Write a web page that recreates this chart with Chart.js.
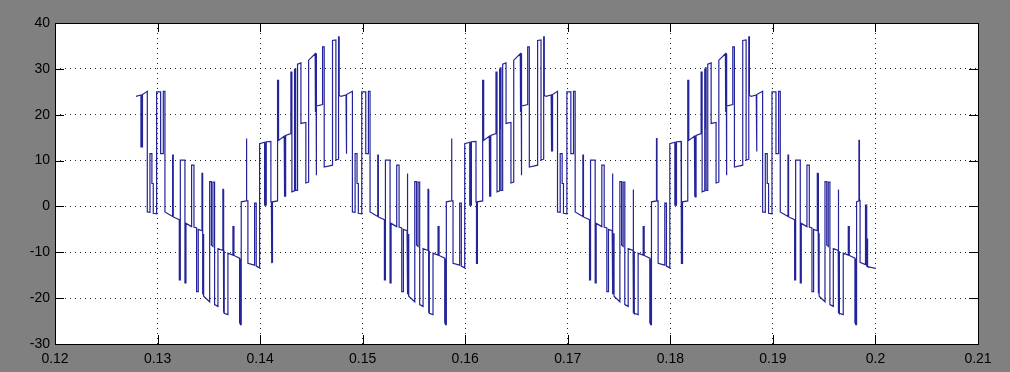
<!DOCTYPE html>
<html>
<head>
<meta charset="utf-8">
<script src="https://cdn.jsdelivr.net/npm/chart.js@4.4.1/dist/chart.umd.min.js"></script>
<style>
  html, body { margin: 0; padding: 0; background: #808080; }
</style>
</head>
<body>
<canvas id="scope" width="1010" height="372"></canvas>
<script>
// tick values and labels (MATLAB style axis)
const xTicks = [0.12, 0.13, 0.14, 0.15, 0.16, 0.17, 0.18, 0.19, 0.2, 0.21];
const xTickLabels = ['0.12', '0.13', '0.14', '0.15', '0.16', '0.17', '0.18', '0.19', '0.2', '0.21'];
const yTicks = [-30, -20, -10, 0, 10, 20, 30, 40];
const yTickLabels = ['-30', '-20', '-10', '0', '10', '20', '30', '40'];

// waveform, [time s, value]
const descend1 = [
  [0.12789, 24.0],
  [0.12838, 24.3], [0.12838, 13.0], [0.12843, 13.0], [0.12843, 24.3], [0.12848, 24.35], [0.12848, 13.0], [0.12853, 13.0], [0.12853, 24.4],
  [0.12900, 25.1], [0.12900, -1.2],
  [0.12926, -1.3], [0.12926, 11.5], [0.12945, 11.5], [0.12945, 5.0], [0.12958, 5.0], [0.12958, -1.5],
  [0.12991, -1.6], [0.12991, 25.0], [0.13030, 25.0], [0.13030, 11.5], [0.13056, 11.5], [0.13056, 25.1], [0.13072, 25.1], [0.13072, -1.2],
  [0.13147, -2.2], [0.13147, 11.2], [0.13153, 11.2], [0.13153, -2.3],
  [0.13212, -2.9], [0.13212, -16.0], [0.13222, -16.0], [0.13222, 10.1], [0.13267, 10.1], [0.13267, -16.7], [0.13277, -16.7], [0.13277, -3.7],
  [0.13332, -4.4], [0.13332, 9.0], [0.13355, 9.0], [0.13355, -4.5], [0.13381, -4.7], [0.13381, -18.6], [0.13397, -18.6], [0.13397, -5.0],
  [0.13433, -5.3], [0.13433, 7.2], [0.13440, 7.2], [0.13440, -19.0], [0.13446, -19.0], [0.13446, -6.0], [0.13451, -6.0], [0.13451, -19.6],
  [0.13508, -20.8], [0.13508, 5.4], [0.13525, 5.4], [0.13525, -8.4], [0.13540, -8.7], [0.13540, 5.3], [0.13556, 5.3], [0.13556, -21.4],
  [0.13589, -21.8], [0.13589, -9.2],
  [0.13637, -9.6], [0.13637, 3.7], [0.13641, 3.7], [0.13641, -23.2], [0.13646, -23.2], [0.13646, -9.8], [0.13650, -9.8], [0.13650, -23.3],
  [0.13686, -23.6], [0.13686, -10.2],
  [0.13735, -10.6], [0.13735, -4.4], [0.13745, -4.4], [0.13745, -10.7],
  [0.13800, -11.3], [0.13800, -25.4], [0.13805, -25.4], [0.13805, -11.4], [0.13810, -11.4], [0.13810, -25.8], [0.13816, -25.8], [0.13816, 1.0],
  [0.13865, 1.2], [0.13865, 14.8], [0.13870, 14.8], [0.13870, 1.2], [0.13881, 1.2], [0.13881, -12.4],
  [0.13946, -12.8], [0.13946, 0.7], [0.13962, 0.7], [0.13962, -13.0],
  [0.13995, -13.4]
];
const rise1 = [
  [0.13995, 13.7],
  [0.14044, 14.0], [0.14044, 0.3], [0.14049, 0.3], [0.14049, 14.0], [0.14054, 14.0], [0.14054, 0.3], [0.14060, 0.3], [0.14060, 14.1],
  [0.14105, 14.2], [0.14105, 1.0], [0.14110, 1.0], [0.14110, -12.4], [0.14115, -12.4], [0.14115, 1.0], [0.14118, 1.0], [0.14118, -12.3], [0.14122, -12.3], [0.14122, 1.0],
  [0.14170, 1.2], [0.14170, 27.5], [0.14180, 27.5], [0.14180, 14.4],
  [0.14235, 15.3], [0.14235, 2.1], [0.14240, 2.1], [0.14240, 15.3], [0.14245, 15.3], [0.14245, 2.1], [0.14251, 2.1], [0.14251, 15.5],
  [0.14300, 15.9], [0.14300, 29.3], [0.14310, 29.3], [0.14310, 3.2],
  [0.14333, 3.4], [0.14333, 30.0], [0.14337, 30.0], [0.14337, 17.0], [0.14342, 17.0], [0.14342, 30.2], [0.14349, 30.2], [0.14349, 3.5],
  [0.14365, 3.5], [0.14365, 31.0], [0.14398, 31.3], [0.14398, 18.1],
  [0.14446, 18.3], [0.14446, 5.1], [0.14473, 5.3], [0.14473, 31.9],
  [0.14537, 33.3], [0.14537, 20.6], [0.14541, 20.6], [0.14541, 33.3], [0.14545, 33.3], [0.14545, 6.8], [0.14551, 6.8], [0.14551, 21.9],
  [0.14609, 22.2], [0.14609, 34.8], [0.14625, 34.8], [0.14625, 8.6],
  [0.14706, 9.0], [0.14706, 36.2], [0.14739, 36.3], [0.14739, 10.1],
  [0.14765, 10.3], [0.14765, 37.0], [0.14771, 37.0], [0.14771, 24.2]
];
const descend2 = [
  [0.14789, 24.0],
  [0.14838, 24.3], [0.14838, 11.5], [0.14845, 11.5], [0.14845, 24.4],
  [0.14900, 25.1], [0.14900, -1.2],
  [0.14926, -1.3], [0.14926, 11.5], [0.14945, 11.5], [0.14945, 5.0], [0.14958, 5.0], [0.14958, -1.5],
  [0.14991, -1.6], [0.14991, 25.0], [0.15030, 25.0], [0.15030, 11.5], [0.15056, 11.5], [0.15056, 25.1], [0.15072, 25.1], [0.15072, -1.2],
  [0.15147, -2.2], [0.15147, 11.2], [0.15153, 11.2], [0.15153, -2.3],
  [0.15212, -2.9], [0.15212, -16.0], [0.15222, -16.0], [0.15222, 10.1], [0.15267, 10.1], [0.15267, -16.7], [0.15277, -16.7], [0.15277, -3.7],
  [0.15332, -4.4], [0.15332, 9.0], [0.15355, 9.0], [0.15355, -4.5], [0.15381, -4.7], [0.15381, -18.6], [0.15397, -18.6], [0.15397, -5.0],
  [0.15433, -5.3], [0.15433, 7.2], [0.15440, 7.2], [0.15440, -19.0], [0.15446, -19.0], [0.15446, -6.0], [0.15451, -6.0], [0.15451, -19.6],
  [0.15508, -20.8], [0.15508, 5.4], [0.15525, 5.4], [0.15525, -8.4], [0.15540, -8.7], [0.15540, 5.3], [0.15556, 5.3], [0.15556, -21.4],
  [0.15589, -21.8], [0.15589, -9.2],
  [0.15637, -9.6], [0.15637, 3.7], [0.15641, 3.7], [0.15641, -23.2], [0.15646, -23.2], [0.15646, -9.8], [0.15650, -9.8], [0.15650, -23.3],
  [0.15686, -23.6], [0.15686, -10.2],
  [0.15735, -10.6], [0.15735, -4.4], [0.15745, -4.4], [0.15745, -10.7],
  [0.15800, -11.3], [0.15800, -25.4], [0.15805, -25.4], [0.15805, -11.4], [0.15810, -11.4], [0.15810, -25.8], [0.15816, -25.8], [0.15816, 1.0],
  [0.15865, 1.2], [0.15865, 14.8], [0.15870, 14.8], [0.15870, 1.2], [0.15881, 1.2], [0.15881, -12.4],
  [0.15946, -12.8], [0.15946, 0.7], [0.15962, 0.7], [0.15962, -13.0],
  [0.15995, -13.4]
];
const rise2 = [
  [0.15995, 13.7],
  [0.16044, 14.0], [0.16044, 0.3], [0.16049, 0.3], [0.16049, 14.0], [0.16054, 14.0], [0.16054, 0.3], [0.16060, 0.3], [0.16060, 14.1],
  [0.16105, 14.2], [0.16105, 1.0], [0.16110, 1.0], [0.16110, -12.4], [0.16115, -12.4], [0.16115, 1.0], [0.16118, 1.0], [0.16118, -12.3], [0.16122, -12.3], [0.16122, 1.0],
  [0.16170, 1.2], [0.16170, 27.5], [0.16180, 27.5], [0.16180, 14.4],
  [0.16235, 15.3], [0.16235, 2.1], [0.16240, 2.1], [0.16240, 15.3], [0.16245, 15.3], [0.16245, 2.1], [0.16251, 2.1], [0.16251, 15.5],
  [0.16300, 15.9], [0.16300, 29.3], [0.16310, 29.3], [0.16310, 3.2],
  [0.16333, 3.4], [0.16333, 30.0], [0.16337, 30.0], [0.16337, 17.0], [0.16342, 17.0], [0.16342, 30.2], [0.16349, 30.2], [0.16349, 3.5],
  [0.16365, 3.5], [0.16365, 31.0], [0.16398, 31.3], [0.16398, 18.1],
  [0.16446, 18.3], [0.16446, 5.1], [0.16473, 5.3], [0.16473, 31.9],
  [0.16537, 33.3], [0.16537, 20.6], [0.16541, 20.6], [0.16541, 33.3], [0.16545, 33.3], [0.16545, 6.8], [0.16551, 6.8], [0.16551, 21.9],
  [0.16609, 22.2], [0.16609, 34.8], [0.16625, 34.8], [0.16625, 8.6],
  [0.16706, 9.0], [0.16706, 36.2], [0.16739, 36.3], [0.16739, 10.1],
  [0.16765, 10.3], [0.16765, 37.0], [0.16771, 37.0], [0.16771, 24.2]
];
const descend3 = [
  [0.16789, 24.0],
  [0.16838, 24.3], [0.16838, 12.0], [0.16844, 12.0], [0.16844, 24.3], [0.16849, 24.35], [0.16849, 12.0], [0.16853, 12.0], [0.16853, 24.4],
  [0.16900, 25.1], [0.16900, -1.2],
  [0.16926, -1.3], [0.16926, 11.5], [0.16945, 11.5], [0.16945, 5.0], [0.16958, 5.0], [0.16958, -1.5],
  [0.16991, -1.6], [0.16991, 25.0], [0.17030, 25.0], [0.17030, 11.5], [0.17056, 11.5], [0.17056, 25.1], [0.17072, 25.1], [0.17072, -1.2],
  [0.17147, -2.2], [0.17147, 11.2], [0.17153, 11.2], [0.17153, -2.3],
  [0.17212, -2.9], [0.17212, -16.0], [0.17222, -16.0], [0.17222, 10.1], [0.17267, 10.1], [0.17267, -16.7], [0.17277, -16.7], [0.17277, -3.7],
  [0.17332, -4.4], [0.17332, 9.0], [0.17355, 9.0], [0.17355, -4.5], [0.17381, -4.7], [0.17381, -18.6], [0.17397, -18.6], [0.17397, -5.0],
  [0.17433, -5.3], [0.17433, 7.2], [0.17440, 7.2], [0.17440, -19.0], [0.17446, -19.0], [0.17446, -6.0], [0.17451, -6.0], [0.17451, -19.6],
  [0.17508, -20.8], [0.17508, 5.4], [0.17525, 5.4], [0.17525, -8.4], [0.17540, -8.7], [0.17540, 5.3], [0.17556, 5.3], [0.17556, -21.4],
  [0.17589, -21.8], [0.17589, -9.2],
  [0.17637, -9.6], [0.17637, 3.7], [0.17641, 3.7], [0.17641, -23.2], [0.17646, -23.2], [0.17646, -9.8], [0.17650, -9.8], [0.17650, -23.3],
  [0.17686, -23.6], [0.17686, -10.2],
  [0.17735, -10.6], [0.17735, -4.4], [0.17745, -4.4], [0.17745, -10.7],
  [0.17800, -11.3], [0.17800, -25.4], [0.17805, -25.4], [0.17805, -11.4], [0.17810, -11.4], [0.17810, -25.8], [0.17816, -25.8], [0.17816, 1.0],
  [0.17865, 1.2], [0.17865, 14.8], [0.17870, 14.8], [0.17870, 1.2], [0.17881, 1.2], [0.17881, -12.4],
  [0.17946, -12.8], [0.17946, 0.7], [0.17962, 0.7], [0.17962, -13.0],
  [0.17995, -13.4]
];
const rise3 = [
  [0.17995, 13.7],
  [0.18044, 14.0], [0.18044, 0.3], [0.18049, 0.3], [0.18049, 14.0], [0.18054, 14.0], [0.18054, 0.3], [0.18060, 0.3], [0.18060, 14.1],
  [0.18105, 14.2], [0.18105, 1.0], [0.18110, 1.0], [0.18110, -12.4], [0.18115, -12.4], [0.18115, 1.0], [0.18118, 1.0], [0.18118, -12.3], [0.18122, -12.3], [0.18122, 1.0],
  [0.18170, 1.2], [0.18170, 27.5], [0.18180, 27.5], [0.18180, 14.4],
  [0.18235, 15.3], [0.18235, 2.1], [0.18240, 2.1], [0.18240, 15.3], [0.18245, 15.3], [0.18245, 2.1], [0.18251, 2.1], [0.18251, 15.5],
  [0.18300, 15.9], [0.18300, 29.3], [0.18310, 29.3], [0.18310, 3.2],
  [0.18333, 3.4], [0.18333, 30.0], [0.18337, 30.0], [0.18337, 17.0], [0.18342, 17.0], [0.18342, 30.2], [0.18349, 30.2], [0.18349, 3.5],
  [0.18365, 3.5], [0.18365, 31.0], [0.18398, 31.3], [0.18398, 18.1],
  [0.18446, 18.3], [0.18446, 5.1], [0.18473, 5.3], [0.18473, 31.9],
  [0.18537, 33.3], [0.18537, 20.6], [0.18541, 20.6], [0.18541, 33.3], [0.18545, 33.3], [0.18545, 6.8], [0.18551, 6.8], [0.18551, 21.9],
  [0.18609, 22.2], [0.18609, 34.8], [0.18625, 34.8], [0.18625, 8.6],
  [0.18706, 9.0], [0.18706, 36.2], [0.18739, 36.3], [0.18739, 10.1],
  [0.18765, 10.3], [0.18765, 37.0], [0.18771, 37.0], [0.18771, 24.2]
];
const descend4 = [
  [0.18789, 24.0],
  [0.18838, 24.3], [0.18838, 12.0], [0.18845, 12.0], [0.18845, 24.4],
  [0.18900, 25.1], [0.18900, -1.2],
  [0.18926, -1.3], [0.18926, 11.5], [0.18945, 11.5], [0.18945, 5.0], [0.18958, 5.0], [0.18958, -1.5],
  [0.18991, -1.6], [0.18991, 25.0], [0.19030, 25.0], [0.19030, 11.5], [0.19056, 11.5], [0.19056, 25.1], [0.19072, 25.1], [0.19072, -1.2],
  [0.19147, -2.2], [0.19147, 11.2], [0.19153, 11.2], [0.19153, -2.3],
  [0.19212, -2.9], [0.19212, -16.0], [0.19222, -16.0], [0.19222, 10.1], [0.19267, 10.1], [0.19267, -16.7], [0.19277, -16.7], [0.19277, -3.7],
  [0.19332, -4.4], [0.19332, 9.0], [0.19355, 9.0], [0.19355, -4.5], [0.19381, -4.7], [0.19381, -18.6], [0.19397, -18.6], [0.19397, -5.0],
  [0.19433, -5.3], [0.19433, 7.2], [0.19440, 7.2], [0.19440, -19.0], [0.19446, -19.0], [0.19446, -6.0], [0.19451, -6.0], [0.19451, -19.6],
  [0.19508, -20.8], [0.19508, 5.4], [0.19525, 5.4], [0.19525, -8.4], [0.19540, -8.7], [0.19540, 5.3], [0.19556, 5.3], [0.19556, -21.4],
  [0.19589, -21.8], [0.19589, -9.2],
  [0.19637, -9.6], [0.19637, 3.7], [0.19641, 3.7], [0.19641, -23.2], [0.19646, -23.2], [0.19646, -9.8], [0.19650, -9.8], [0.19650, -23.3],
  [0.19686, -23.6], [0.19686, -10.2],
  [0.19735, -10.6], [0.19735, -4.4], [0.19745, -4.4], [0.19745, -10.7],
  [0.19800, -11.3], [0.19800, -25.4], [0.19805, -25.4], [0.19805, -11.4], [0.19810, -11.4], [0.19810, -25.8], [0.19816, -25.8], [0.19816, 1.0],
  [0.19839, 1.2], [0.19839, 14.4], [0.19844, 14.4], [0.19844, 1.3], [0.19850, 1.3], [0.19850, -12.2],
  [0.19903, -12.7], [0.19903, 0.3], [0.19915, 0.3], [0.19915, -13.0], [0.19920, -13.0], [0.19920, -7.0], [0.19925, -7.0], [0.19925, -13.1],
  [0.20000, -13.5]
];

const trace = [descend1, rise1, descend2, rise2, descend3, rise3, descend4]
  .flat()
  .map(([t, v]) => ({ x: t, y: v }));

const tickFont = { family: 'Liberation Sans, Arial, sans-serif', size: 14 };

// gray figure, white axes box, inward ticks like the matlab plot
const scopeFrame = {
  id: 'scopeFrame',
  beforeDraw(chart) {
    const { ctx, chartArea: a } = chart;
    ctx.save();
    ctx.fillStyle = '#808080';
    ctx.fillRect(0, 0, chart.width, chart.height);
    ctx.fillStyle = '#ffffff';
    ctx.fillRect(a.left, a.top, a.right - a.left, a.bottom - a.top);
    ctx.restore();
  },
  afterDraw(chart) {
    const { ctx, chartArea: a, scales } = chart;
    const tl = 9;
    ctx.save();
    ctx.strokeStyle = '#000';
    ctx.lineWidth = 1;
    ctx.beginPath();
    xTicks.forEach(v => {
      const px = Math.round(scales.x.getPixelForValue(v)) + 0.5;
      ctx.moveTo(px, a.bottom); ctx.lineTo(px, a.bottom - tl);
      ctx.moveTo(px, a.top); ctx.lineTo(px, a.top + tl);
    });
    yTicks.forEach(v => {
      const py = Math.round(scales.y.getPixelForValue(v)) + 0.5;
      ctx.moveTo(a.left, py); ctx.lineTo(a.left + tl, py);
      ctx.moveTo(a.right, py); ctx.lineTo(a.right - tl, py);
    });
    ctx.stroke();
    ctx.strokeRect(Math.round(a.left) + 0.5, Math.round(a.top) + 0.5,
      Math.round(a.right - a.left), Math.round(a.bottom - a.top));
    ctx.restore();
  }
};

const ctx = document.getElementById('scope').getContext('2d');
new Chart(ctx, {
  type: 'scatter',
  data: {
    datasets: [{
      data: trace,
      showLine: true,
      borderColor: '#24249a',
      borderWidth: 1.2,
      pointRadius: 0,
      tension: 0
    }]
  },
  options: {
    responsive: false,
    animation: false,
    layout: { padding: { top: 23, right: 32, left: 0, bottom: 0 } },
    plugins: { legend: { display: false }, tooltip: { enabled: false } },
    scales: {
      x: {
        type: 'linear',
        min: 0.12,
        max: 0.21,
        afterBuildTicks: s => { s.ticks = xTicks.map(v => ({ value: v })); },
        afterFit: s => { s.height = 28; },
        ticks: {
          callback: (v, i) => xTickLabels[i],
          font: tickFont,
          color: '#000',
          padding: 7,
          maxRotation: 0,
          autoSkip: false
        },
        grid: { color: 'rgba(0,0,0,0.85)', lineWidth: 1, drawTicks: false },
        border: { display: false, dash: [1, 4] }
      },
      y: {
        min: -30,
        max: 40,
        afterBuildTicks: s => { s.ticks = yTicks.map(v => ({ value: v })); },
        afterFit: s => { s.width = 55; },
        ticks: {
          callback: (v, i) => yTickLabels[i],
          font: tickFont,
          color: '#000',
          padding: 5
        },
        grid: { color: 'rgba(0,0,0,0.85)', lineWidth: 1, drawTicks: false },
        border: { display: false, dash: [1, 4] }
      }
    }
  },
  plugins: [scopeFrame]
});
</script>
</body>
</html>
